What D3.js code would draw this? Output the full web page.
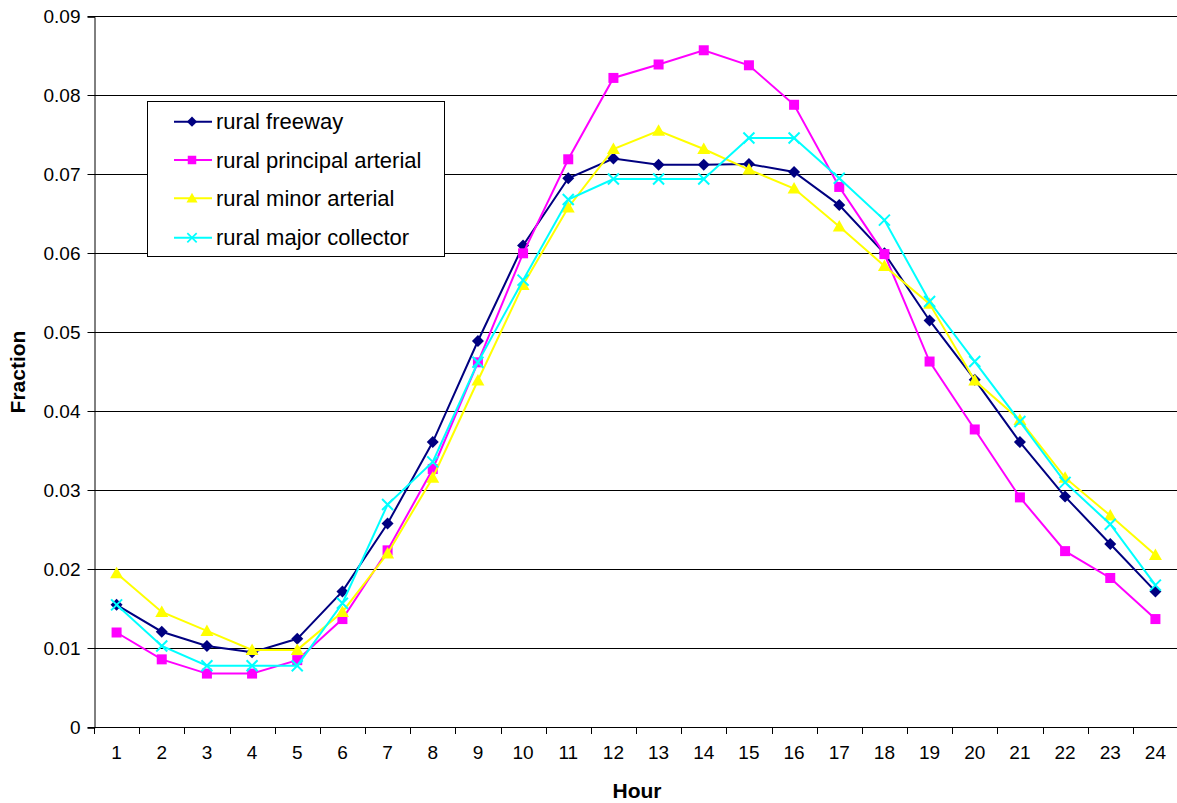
<!DOCTYPE html>
<html>
<head>
<meta charset="utf-8">
<script src="https://cdn.jsdelivr.net/npm/d3@7"></script>
<style>
  html, body { margin: 0; padding: 0; background: #fff; }
  svg { display: block; font-family: "Liberation Sans", Arial, sans-serif; }
</style>
</head>
<body>
<svg id="chart" width="1177" height="803"></svg>
<script>
// Hourly traffic distribution by rural road class
const hours = d3.range(1, 25);
const yTicks = [0, 0.01, 0.02, 0.03, 0.04, 0.05, 0.06, 0.07, 0.08, 0.09];

const ruralFreeway = [0.0155, 0.0121, 0.0103, 0.0095, 0.0112, 0.0172, 0.0258, 0.0361, 0.0489, 0.0610, 0.0695, 0.0720,
                      0.0712, 0.0712, 0.0713, 0.0703, 0.0661, 0.0600, 0.0515, 0.0440, 0.0361, 0.0292, 0.0232, 0.0172];
const ruralPrincipalArterial = [0.0120, 0.0086, 0.0068, 0.0068, 0.0085, 0.0137, 0.0224, 0.0327, 0.0462, 0.0600, 0.0719, 0.0822,
                                0.0839, 0.0857, 0.0838, 0.0788, 0.0684, 0.0599, 0.0463, 0.0377, 0.0291, 0.0223, 0.0189, 0.0137];
const ruralMinorArterial = [0.0195, 0.0146, 0.0122, 0.0098, 0.0098, 0.0146, 0.0220, 0.0316, 0.0439, 0.0560, 0.0658, 0.0732,
                            0.0755, 0.0732, 0.0706, 0.0682, 0.0634, 0.0584, 0.0536, 0.0439, 0.0389, 0.0316, 0.0268, 0.0218];
const ruralMajorCollector = [0.0155, 0.0103, 0.0078, 0.0078, 0.0078, 0.0157, 0.0282, 0.0336, 0.0462, 0.0566, 0.0668, 0.0694,
                             0.0694, 0.0694, 0.0746, 0.0746, 0.0695, 0.0642, 0.0539, 0.0463, 0.0387, 0.0310, 0.0257, 0.0180];

const seriesNames = ["rural freeway", "rural principal arterial", "rural minor arterial", "rural major collector"];
const seriesColors = ["#000080", "#FF00FF", "#FFFF00", "#00FFFF"];
const seriesSymbols = ["diamond", "square", "triangle", "cross"];
const seriesValues = [ruralFreeway, ruralPrincipalArterial, ruralMinorArterial, ruralMajorCollector];

const svg = d3.select("#chart");
const plotLeft = 94, plotRight = 1178, plotTop = 16.3, plotBottom = 727.3;

const x = d3.scaleBand().domain(hours).range([plotLeft, plotRight]).padding(0);
const xEdge = d3.scaleLinear().domain([0, hours.length]).range([plotLeft, plotRight]);
const y = d3.scaleLinear().domain([0, 0.09]).range([plotBottom, plotTop]);

// Horizontal gridlines
svg.append("g")
  .selectAll("line")
  .data(yTicks.filter(d => d > 0))
  .join("line")
  .attr("x1", plotLeft).attr("x2", plotRight)
  .attr("y1", d => Math.round(y(d)) + 0.5).attr("y2", d => Math.round(y(d)) + 0.5)
  .attr("stroke", "#000").attr("stroke-width", 1);

// Y axis
const yAxis = svg.append("g")
  .attr("transform", `translate(${plotLeft + 0.5},0.5)`)
  .call(d3.axisLeft(y).tickValues(yTicks).tickSize(7).tickPadding(7)
    .tickFormat(d => d === 0 ? "0" : d3.format(".2f")(d)));
yAxis.select(".domain").attr("stroke", "#000");
yAxis.selectAll(".tick line").attr("stroke", "#000");
yAxis.selectAll(".tick text").attr("font-size", 19).attr("fill", "#000")
  .attr("font-family", "'Liberation Sans', Arial, sans-serif");
yAxis.selectAll(".tick").attr("transform", d => `translate(0,${Math.round(y(d))})`);

// X axis: baseline, tick marks between categories, centred labels
svg.append("line")
  .attr("x1", plotLeft).attr("x2", plotRight)
  .attr("y1", Math.round(plotBottom) + 0.5).attr("y2", Math.round(plotBottom) + 0.5)
  .attr("stroke", "#000");
svg.append("g")
  .selectAll("line")
  .data(d3.range(0, hours.length + 1))
  .join("line")
  .attr("x1", d => Math.round(xEdge(d)) + 0.5).attr("x2", d => Math.round(xEdge(d)) + 0.5)
  .attr("y1", Math.round(plotBottom)).attr("y2", Math.round(plotBottom) + 7)
  .attr("stroke", "#000");
svg.append("g")
  .selectAll("text")
  .data(hours)
  .join("text")
  .attr("x", d => x(d) + x.bandwidth() / 2)
  .attr("y", 759)
  .attr("text-anchor", "middle")
  .attr("font-size", 19)
  .text(d => d);

// Axis titles
svg.append("text")
  .attr("x", 637).attr("y", 798)
  .attr("text-anchor", "middle")
  .attr("font-size", 21).attr("font-weight", "bold")
  .text("Hour");
svg.append("text")
  .attr("transform", "translate(25,372) rotate(-90)")
  .attr("text-anchor", "middle")
  .attr("font-size", 21).attr("font-weight", "bold")
  .text("Fraction");

// Marker shapes
function marker(sel, type, color) {
  if (type === "diamond") {
    sel.append("path").attr("d", "M0,-6L6,0L0,6L-6,0Z").attr("fill", color);
  } else if (type === "square") {
    sel.append("rect").attr("x", -5).attr("y", -5).attr("width", 10).attr("height", 10).attr("fill", color);
  } else if (type === "triangle") {
    sel.append("path").attr("d", "M0,-6.5L6.5,5L-6.5,5Z").attr("fill", color);
  } else {
    sel.append("path").attr("d", "M-5.5,-5.5L5.5,5.5M-5.5,5.5L5.5,-5.5")
      .attr("stroke", color).attr("stroke-width", 2).attr("fill", "none");
  }
}

const line = d3.line()
  .x((d, i) => x(hours[i]) + x.bandwidth() / 2)
  .y(d => y(d));

seriesValues.forEach((vals, s) => {
  const g = svg.append("g");
  g.append("path")
    .datum(vals)
    .attr("d", line)
    .attr("fill", "none")
    .attr("stroke", seriesColors[s])
    .attr("stroke-width", 2);
  g.selectAll("g.pt")
    .data(vals)
    .join("g")
    .attr("class", "pt")
    .attr("transform", (d, i) => `translate(${x(hours[i]) + x.bandwidth() / 2},${y(d)})`)
    .each(function () { marker(d3.select(this), seriesSymbols[s], seriesColors[s]); });
});

// Legend
const legend = svg.append("g");
legend.append("rect")
  .attr("x", 147.5).attr("y", 101.5).attr("width", 297).attr("height", 155)
  .attr("fill", "#fff").attr("stroke", "#000").attr("stroke-width", 1);
const legendY = [121.7, 160, 198.3, 237.7];
seriesNames.forEach((name, s) => {
  const row = legend.append("g");
  row.append("line")
    .attr("x1", 174).attr("x2", 212)
    .attr("y1", legendY[s]).attr("y2", legendY[s])
    .attr("stroke", seriesColors[s]).attr("stroke-width", 2);
  const m = row.append("g").attr("transform", `translate(192,${legendY[s]}) scale(0.85)`);
  marker(m, seriesSymbols[s], seriesColors[s]);
  row.append("text")
    .attr("x", 216).attr("y", legendY[s] + 7.5)
    .attr("font-size", 22)
    .text(name);
});
</script>
</body>
</html>
